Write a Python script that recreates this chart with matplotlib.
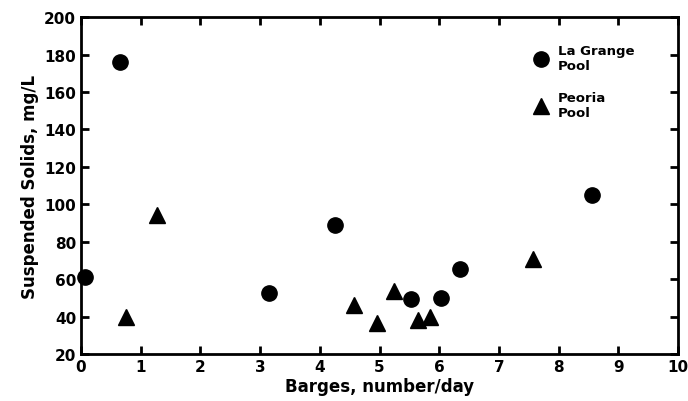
import matplotlib
matplotlib.use("Agg")
import matplotlib.pyplot as plt

# La Grange Pool
lagrange_barges = [0.07, 0.65, 3.15, 4.25, 5.52, 6.03, 6.35, 8.56]
lagrange_solids = [61, 176, 52.5, 89, 49.5, 50, 65.5, 105]

# Peoria Pool
peoria_barges = [0.75, 1.27, 4.57, 4.95, 5.25, 5.65, 5.85, 7.57]
peoria_solids = [40, 94, 46, 36.5, 53.5, 38, 40, 71]

plt.rcParams['font.family'] = ['DejaVu Sans']
plt.rcParams['font.weight'] = 'bold'
plt.rcParams['axes.labelweight'] = 'bold'

fig = plt.figure(figsize=(6.88, 4.02), dpi=100)
ax = fig.add_axes([0.1177, 0.117, 0.8678, 0.838])

ax.plot(lagrange_barges, lagrange_solids, 'o', color='black', markersize=11,
        label='La Grange\nPool', clip_on=False)
ax.plot(peoria_barges, peoria_solids, '^', color='black', markersize=11,
        label='Peoria\nPool', clip_on=False)

ax.set_xlim(0, 10)
ax.set_ylim(20, 200)
ax.set_xticks(range(0, 11))
ax.set_yticks(range(20, 201, 20))
ax.tick_params(direction='in', top=True, right=True, length=6, width=2,
               labelsize=11)
for s in ax.spines.values():
    s.set_linewidth(2)

ax.set_xlabel('Barges, number/day', fontsize=12, labelpad=2)
ax.set_ylabel('Suspended Solids, mg/L', fontsize=12, labelpad=4)

ax.legend(loc='upper left', frameon=False, fontsize=9.5, handletextpad=0.3,
          labelspacing=1.45, bbox_to_anchor=(0.728, 0.955))

fig.savefig('out.png', dpi=100)
